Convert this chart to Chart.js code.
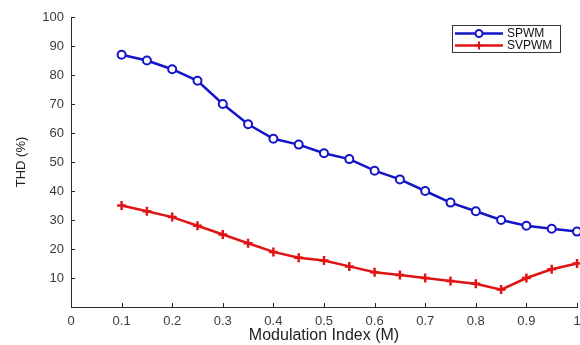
<!DOCTYPE html>
<html>
<head>
<meta charset="utf-8">
<script src="https://cdn.jsdelivr.net/npm/chart.js@4/dist/chart.umd.min.js"></script>
<style>
html, body { margin: 0; padding: 0; background: #fff; overflow: hidden; }
/* the source figure is cropped at its right edge, so the canvas runs a little past the window */
#wrap { width: 584px; height: 345px; position: relative; }
</style>
</head>
<body>
<div id="wrap"><canvas id="thd-chart"></canvas></div>
<script>
var modIndex = [0.1, 0.15, 0.2, 0.25, 0.3, 0.35, 0.4, 0.45, 0.5, 0.55, 0.6, 0.65, 0.7, 0.75, 0.8, 0.85, 0.9, 0.95, 1.0];
var spwmThd = [87, 85, 82, 78, 70, 63, 58, 56, 53, 51, 47, 44, 40, 36, 33, 30, 28, 27, 26];
var svpwmThd = [35, 33, 31, 28, 25, 22, 19, 17, 16, 14, 12, 11, 10, 9, 8, 6, 10, 13, 15];
var xTicks = [0, 0.1, 0.2, 0.3, 0.4, 0.5, 0.6, 0.7, 0.8, 0.9, 1];
var yTicks = [10, 20, 30, 40, 50, 60, 70, 80, 90, 100];

var FONT = '"Liberation Sans", Arial, Helvetica, sans-serif';
var BLUE = '#1414c8';
var RED = '#e01414';
var AXIS = '#2a2a2a';

function toPoints(xs, ys) {
    var pts = [];
    for (var i = 0; i < xs.length; i++) {
        pts.push({ x: xs[i], y: ys[i] });
    }
    return pts;
}

// small inward ticks like matlab
var innerTicks = {
    id: 'innerTicks',
    afterDraw: function(chart) {
        var ctx = chart.ctx;
        var xs = chart.scales.x;
        var ys = chart.scales.y;
        var area = chart.chartArea;
        ctx.save();
        ctx.strokeStyle = AXIS;
        ctx.lineWidth = 1;
        ctx.beginPath();
        for (var i = 0; i < xTicks.length; i++) {
            var px = Math.round(xs.getPixelForValue(xTicks[i])) + 0.5;
            ctx.moveTo(px, area.bottom);
            ctx.lineTo(px, area.bottom - 4);
        }
        for (var j = 0; j < yTicks.length; j++) {
            var py = Math.round(ys.getPixelForValue(yTicks[j])) + 0.5;
            ctx.moveTo(area.left, py);
            ctx.lineTo(area.left + 4, py);
        }
        ctx.stroke();
        ctx.restore();
    }
};

// boxed legend in the upper right corner
var boxLegend = {
    id: 'boxLegend',
    afterDraw: function(chart) {
        var ctx = chart.ctx;
        var bx = 452.5, by = 25.5, bw = 108, bh = 27;
        ctx.save();
        ctx.fillStyle = '#fff';
        ctx.fillRect(bx, by, bw, bh);
        ctx.strokeStyle = '#333';
        ctx.lineWidth = 1;
        ctx.strokeRect(bx, by, bw, bh);
        var rows = [33.5, 45.5];
        ctx.font = '12px ' + FONT;
        ctx.textBaseline = 'middle';
        for (var i = 0; i < chart.data.datasets.length; i++) {
            var ds = chart.data.datasets[i];
            var y = rows[i];
            ctx.strokeStyle = ds.borderColor;
            ctx.lineWidth = 2.5;
            ctx.beginPath();
            ctx.moveTo(455, y);
            ctx.lineTo(503, y);
            ctx.stroke();
            ctx.fillStyle = ds.pointStyle === 'circle' ? '#fff' : ds.borderColor;
            ctx.lineWidth = 2;
            Chart.helpers.drawPoint(ctx, {
                pointStyle: ds.pointStyle,
                radius: ds.pointRadius - 0.5,
                borderWidth: 2
            }, 479, y);
            ctx.fillStyle = '#111';
            ctx.fillText(ds.label, 507, y + 0.5);
        }
        ctx.restore();
    }
};

new Chart(document.getElementById('thd-chart'), {
    type: 'line',
    data: {
        datasets: [{
            label: 'SPWM',
            data: toPoints(modIndex, spwmThd),
            borderColor: BLUE,
            borderWidth: 2.5,
            pointStyle: 'circle',
            pointRadius: 4,
            pointBorderWidth: 2,
            pointBackgroundColor: '#fff',
            pointBorderColor: BLUE,
            tension: 0,
            clip: false
        }, {
            label: 'SVPWM',
            data: toPoints(modIndex, svpwmThd),
            borderColor: RED,
            borderWidth: 2.5,
            pointStyle: 'cross',
            pointRadius: 4.5,
            pointBorderWidth: 2.5,
            pointBackgroundColor: RED,
            pointBorderColor: RED,
            tension: 0,
            clip: false
        }]
    },
    options: {
        responsive: true,
        maintainAspectRatio: false,
        animation: false,
        layout: { padding: { top: 17, right: 0, left: 0, bottom: 0 } },
        plugins: {
            legend: { display: false },
            tooltip: { enabled: false }
        },
        scales: {
            x: {
                type: 'linear',
                min: 0,
                max: 1,
                afterBuildTicks: function(scale) {
                    scale.ticks = xTicks.map(function(v) { return { value: v }; });
                },
                afterFit: function(scale) {
                    scale.height = 38;
                    scale.paddingRight = 0;
                    scale.paddingLeft = 0;
                },
                grid: { display: false, drawTicks: false },
                border: { display: true, color: AXIS, width: 1 },
                ticks: {
                    padding: 7,
                    color: '#3a3a3a',
                    font: { family: FONT, size: 13 },
                    maxRotation: 0,
                    autoSkip: false,
                    callback: function(v) {
                        if (v === 0) return '0';
                        if (v === 1) return '1';
                        return v.toFixed(1);
                    }
                },
                title: {
                    display: true,
                    text: 'Modulation Index (M)',
                    color: '#222',
                    font: { family: FONT, size: 16 },
                    padding: { top: 0, bottom: 0 }
                }
            },
            y: {
                min: 0,
                max: 100,
                afterBuildTicks: function(scale) {
                    scale.ticks = yTicks.map(function(v) { return { value: v }; });
                },
                afterFit: function(scale) { scale.width = 71; },
                grid: { display: false, drawTicks: false },
                border: { display: true, color: AXIS, width: 1 },
                ticks: {
                    padding: 7,
                    color: '#3a3a3a',
                    font: { family: FONT, size: 13 },
                    autoSkip: false
                },
                title: {
                    display: true,
                    text: 'THD (%)',
                    color: '#222',
                    font: { family: FONT, size: 13 },
                    padding: { top: 14, bottom: 0 }
                }
            }
        }
    },
    plugins: [innerTicks, boxLegend]
});
</script>
</body>
</html>
